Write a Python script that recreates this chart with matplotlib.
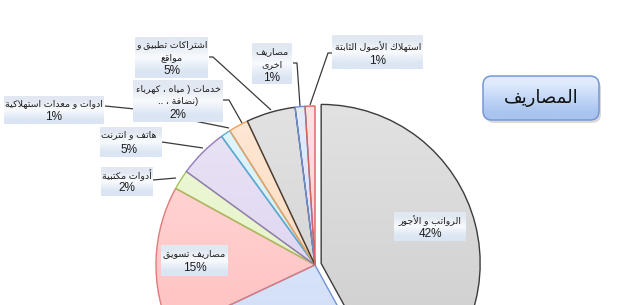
import matplotlib
matplotlib.use("Agg")
import matplotlib.pyplot as plt
import numpy as np
from matplotlib.colors import to_rgb
from matplotlib.patches import FancyBboxPatch

# ---- data -------------------------------------------------------------
categories = [
    "الرواتب و الأجور",
    "إيجار",
    "مصاريف تسويق",
    "أدوات مكتبية",
    "هاتف و انترنت",
    "ادوات و معدات استهلاكية",
    "خدمات ( مياه ، كهرباء\n(نضافة ، ..",
    "اشتراكات تطبيق و\nمواقع",
    "مصاريف\nاخرى",
    "استهلاك الأصول الثابتة",
]
shares = [42, 26, 15, 2, 5, 1, 2, 5, 1, 1]
title = "المصاريف"

# ---- Arabic shaping (presentation forms + right-to-left order) ----------
_TWO = {'آ': 0xFE81, 'أ': 0xFE83, 'ؤ': 0xFE85, 'إ': 0xFE87, 'ا': 0xFE8D,
        'ة': 0xFE93, 'د': 0xFEA9, 'ذ': 0xFEAB, 'ر': 0xFEAD, 'ز': 0xFEAF,
        'و': 0xFEED, 'ى': 0xFEEF}
_FOUR = {'ئ': 0xFE89, 'ب': 0xFE8F, 'ت': 0xFE95, 'ث': 0xFE99, 'ج': 0xFE9D,
         'ح': 0xFEA1, 'خ': 0xFEA5, 'س': 0xFEB1, 'ش': 0xFEB5, 'ص': 0xFEB9,
         'ض': 0xFEBD, 'ط': 0xFEC1, 'ظ': 0xFEC5, 'ع': 0xFEC9, 'غ': 0xFECD,
         'ف': 0xFED1, 'ق': 0xFED5, 'ك': 0xFED9, 'ل': 0xFEDD, 'م': 0xFEE1,
         'ن': 0xFEE5, 'ه': 0xFEE9, 'ي': 0xFEF1}
_LAM_ALEF = {'آ': 0xFEF5, 'أ': 0xFEF7, 'إ': 0xFEF9, 'ا': 0xFEFB}
_MIRROR = {'(': ')', ')': '('}


def arabic_visual(text):
    units, i = [], 0
    while i < len(text):
        ch = text[i]
        if ch == 'ل' and i + 1 < len(text) and text[i + 1] in _LAM_ALEF:
            units.append(('LA', text[i + 1]))
            i += 2
        else:
            units.append(('C', ch))
            i += 1

    def joins_prev(u):
        return u[0] == 'LA' or u[1] in _TWO or u[1] in _FOUR

    def joins_next(u):
        return u[0] == 'C' and u[1] in _FOUR

    out = []
    for k, u in enumerate(units):
        kind, ch = u
        pj = k > 0 and joins_next(units[k - 1]) and joins_prev(u)
        nj = k + 1 < len(units) and joins_next(u) and joins_prev(units[k + 1])
        if kind == 'LA':
            out.append(chr(_LAM_ALEF[ch] + (1 if pj else 0)))
        elif ch in _FOUR:
            form = 3 if (pj and nj) else 1 if pj else 2 if nj else 0
            out.append(chr(_FOUR[ch] + form))
        elif ch in _TWO:
            out.append(chr(_TWO[ch] + (1 if pj else 0)))
        elif ch == 'ء':
            out.append('\uFE80')
        else:
            out.append(_MIRROR.get(ch, ch))
    return ''.join(reversed(out))


# ---- styling ------------------------------------------------------------
fills = [("#e2e2e2", "#c9c9c9"), ("#e4ecfa", "#cbdaf6"), ("#ffdcdc", "#ffb6b6"),
         ("#f0f9dc", "#dbefb6"), ("#ebe5f6", "#d4c9ec"), ("#e2f5fb", "#c6e9f6"),
         ("#fee8d6", "#fbd0ac"), ("#e2e2e2", "#cccccc"), ("#e4ecf9", "#cad9f2"),
         ("#fee2e2", "#f8c2c2")]
edges = ["#3c3c3c", "#7393d3", "#e07b7b", "#a5c25c", "#9479be", "#52b0cf",
         "#f2a05a", "#3c3c3c", "#6b8fd0", "#d96060"]

W, H = 620, 305
fig = plt.figure(figsize=(6.2, 3.05), dpi=100)
ax = fig.add_axes([0, 0, 1, 1])


def Y(y):
    return H - y


center = (315, Y(265))
radius = 159
# pie offsets are in data units here, so scale the pull-out by the radius
explode = [0.04 * radius] + [0.0] * (len(shares) - 1)
wedges, _ = ax.pie(shares, startangle=90, counterclock=False, explode=explode,
                   center=center, radius=radius,
                   wedgeprops=dict(linewidth=1.0))

grad = np.linspace(0, 1, 256)[:, None, None]
for w, (top, bot), ec in zip(wedges, fills, edges):
    c0, c1 = np.array(to_rgb(top)), np.array(to_rgb(bot))
    img = c0[None, None, :] * (1 - grad) + c1[None, None, :] * grad
    cx, cy = w.center
    im = ax.imshow(img, extent=(cx - radius, cx + radius, cy - radius, cy + radius),
                   origin="upper", aspect="auto", zorder=1, interpolation="bilinear")
    im.set_clip_path(w)
    w.set_facecolor("none")
    w.set_edgecolor(ec)
    w.set_zorder(2)

# ---- data labels ----------------------------------------------------------
# per slice: box (x0, y0, x1, y1), text centre x, line ys, leader polyline
layout = {
    0: dict(box=(394, 212, 466, 241), cx=430, ys=[221, 234], lead=None),
    2: dict(box=(161, 245, 228, 276), cx=194.5, ys=[254, 268], lead=None),
    3: dict(box=(101, 167, 153, 196), cx=127, ys=[175, 188],
            lead=[(153, 180), (176, 178)]),
    4: dict(box=(100, 127, 162, 157), cx=129, ys=[135, 150],
            lead=[(162, 142), (203, 148)]),
    5: dict(box=(4, 96, 104, 124), cx=54, ys=[104, 117],
            lead=[(105, 106), (135, 109), (229, 128)]),
    6: dict(box=(133, 80, 223, 122), cx=178, ys=[89, 102, 115],
            lead=[(223, 100), (229, 100), (242, 123)]),
    7: dict(box=(135, 37, 208, 78), cx=172, ys=[45, 58, 71],
            lead=[(209, 57), (213, 57), (271, 110)]),
    8: dict(box=(252, 43, 292, 84), cx=272, ys=[52, 65, 78],
            lead=[(293, 63), (297, 63), (300, 106)]),
    9: dict(box=(332, 35, 423, 69), cx=378, ys=[47, 61],
            lead=[(332, 53), (328, 53), (310, 105)]),
}

box_grad = np.array([to_rgb("#e1e8f2"), to_rgb("#f8fafd"), to_rgb("#dbe5f3")])[:, None, :]
fam = ["Liberation Sans", "DejaVu Sans"]

for idx, spec in layout.items():
    x0, y0, x1, y1 = spec["box"]
    ax.imshow(box_grad, extent=(x0, x1, Y(y1), Y(y0)), origin="upper",
              aspect="auto", zorder=4, interpolation="bilinear")
    lines = categories[idx].split("\n")
    for line, y in zip(lines, spec["ys"]):
        ax.text(spec["cx"], Y(y), arabic_visual(line), ha="center", va="center",
                fontsize=6.8, family=fam, color="#1e1e1e", zorder=5)
    ax.text(spec["cx"], Y(spec["ys"][len(lines)]), f"{shares[idx]}%",
            ha="center", va="center", fontsize=8.5, family=fam,
            color="#1e1e1e", zorder=5)
    if spec["lead"]:
        xs = [p[0] for p in spec["lead"]]
        ys = [Y(p[1]) for p in spec["lead"]]
        ax.plot(xs, ys, color="#3a3a3a", lw=0.9, zorder=3,
                solid_capstyle="butt")

# ---- title box ----------------------------------------------------------
tx0, ty0, tx1, ty1 = 483, 76, 599, 120
shadow = FancyBboxPatch((tx0 + 2, Y(ty1) - 3), tx1 - tx0, ty1 - ty0,
                        boxstyle="round,pad=0,rounding_size=9",
                        fc="#000000", ec="none", alpha=0.15, zorder=6)
ax.add_patch(shadow)
tbox = FancyBboxPatch((tx0, Y(ty1)), tx1 - tx0, ty1 - ty0,
                      boxstyle="round,pad=0,rounding_size=9",
                      fc="none", ec="#7398d8", lw=1.1, zorder=8)
ax.add_patch(tbox)
t_grad = np.array([to_rgb("#e0ebfc"), to_rgb("#c3d7f6"), to_rgb("#a9c4ef")])[:, None, :]
tim = ax.imshow(t_grad, extent=(tx0, tx1, Y(ty1), Y(ty0)), origin="upper",
                aspect="auto", zorder=7, interpolation="bilinear")
tim.set_clip_path(tbox)
ax.text((tx0 + tx1) / 2, Y(98), arabic_visual(title), ha="center", va="center",
        fontsize=13, family=fam, color="#111111", zorder=9)

ax.set_xlim(0, W)
ax.set_ylim(0, H)
ax.set_aspect("auto")
ax.axis("off")
fig.savefig("out.png", dpi=100, facecolor="white")
